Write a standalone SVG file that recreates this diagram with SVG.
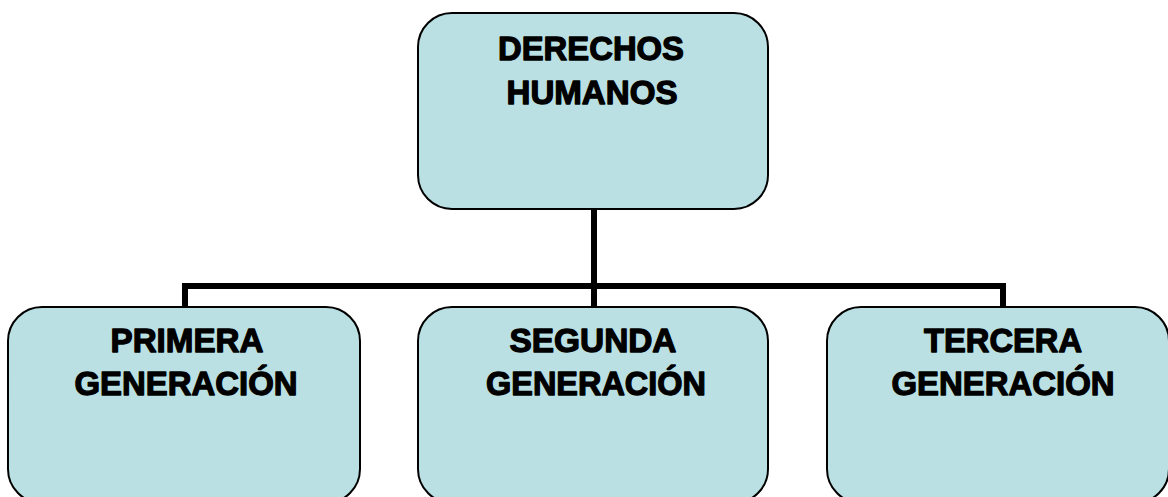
<svg xmlns="http://www.w3.org/2000/svg" width="1168" height="497" viewBox="0 0 1168 497">
<style>
.box{fill:#BAE0E3;stroke:#000;stroke-width:2}
.lbl{font-family:"Liberation Sans",Arial,sans-serif;font-weight:bold;font-size:34px;fill:#000;stroke:#000;stroke-width:1.3;stroke-linejoin:round;text-anchor:middle}
.conn{fill:none;stroke:#000;stroke-width:6;stroke-linejoin:miter;stroke-linecap:butt}
</style>
<rect width="1168" height="497" fill="#fff"/>
<g id="connectors">
<line class="conn" x1="594" y1="209" x2="594" y2="307"/>
<polyline class="conn" points="185,307 185,286 1003,286 1003,307"/>
</g>
<g id="node-derechos">
<rect class="box" x="418" y="13" width="350" height="196" rx="34" ry="34"/>
<text class="lbl" x="591" y="60" textLength="186" lengthAdjust="spacingAndGlyphs">DERECHOS</text>
<text class="lbl" x="592" y="104" textLength="171" lengthAdjust="spacingAndGlyphs">HUMANOS</text>
</g>
<g id="node-primera">
<rect class="box" x="8" y="307" width="352" height="196" rx="34" ry="34"/>
<text class="lbl" x="187" y="352" textLength="153" lengthAdjust="spacingAndGlyphs">PRIMERA</text>
<text class="lbl" x="186" y="395" textLength="223" lengthAdjust="spacingAndGlyphs">GENERACIÓN</text>
</g>
<g id="node-segunda">
<rect class="box" x="418" y="307" width="350" height="196" rx="34" ry="34"/>
<text class="lbl" x="593" y="352" textLength="167" lengthAdjust="spacingAndGlyphs">SEGUNDA</text>
<text class="lbl" x="596" y="395" textLength="220" lengthAdjust="spacingAndGlyphs">GENERACIÓN</text>
</g>
<g id="node-tercera">
<rect class="box" x="827" y="307" width="342" height="196" rx="34" ry="34"/>
<text class="lbl" x="1003" y="352" textLength="158" lengthAdjust="spacingAndGlyphs">TERCERA</text>
<text class="lbl" x="1003" y="395" textLength="223" lengthAdjust="spacingAndGlyphs">GENERACIÓN</text>
</g>
</svg>
